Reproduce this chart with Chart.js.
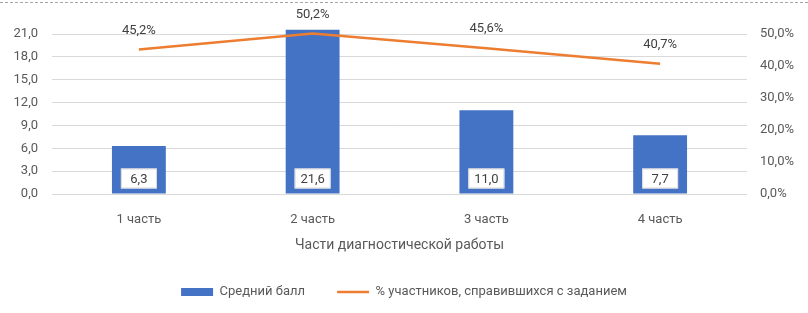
<!DOCTYPE html>
<html>
  <head>
    <meta charset="utf-8" />
    <title>Части диагностической работы</title>
    <style>
      body {
        margin: 0;
        padding: 0;
        background: #fff;
      }
      #wrap {
        position: relative;
        width: 808px;
        height: 313px;
      }
      #topline {
        position: absolute;
        left: 0;
        right: 0;
        top: 2px;
        border-top: 1px dashed #a6a6a6;
      }
    </style>
  </head>
  <body>
    <div id="wrap">
      <canvas id="chart" width="808" height="313"></canvas>
      <div id="topline"></div>
    </div>

    <script src="https://cdn.jsdelivr.net/npm/chart.js"></script>
    <script>
      // chart data
      const parts = ["1 часть", "2 часть", "3 часть", "4 часть"];
      const avgScore = [6.3, 21.6, 11.0, 7.7];
      const pctDone = [45.2, 50.2, 45.6, 40.7];
      const scoreTicks = [0, 3, 6, 9, 12, 15, 18, 21];
      const pctTicks = [0, 10, 20, 30, 40, 50];

      const FONT = "Roboto, sans-serif";
      const GREY = "#595959";

      function fmt(v, digits) {
        return v.toFixed(digits).replace(".", ",");
      }

      // labels on bars and above line points
      const labelPlugin = {
        id: "labels",
        afterDatasetsDraw(chart) {
          const ctx = chart.ctx;
          ctx.save();
          ctx.font = "13px " + FONT;
          ctx.textAlign = "center";
          ctx.textBaseline = "middle";

          chart.getDatasetMeta(0).data.forEach((bar, i) => {
            const txt = fmt(avgScore[i], 1);
            const cy = bar.base - 15;
            ctx.fillStyle = "#fff";
            ctx.fillRect(bar.x - 18, cy - 10, 36, 20);
            ctx.strokeStyle = "#d9d9d9";
            ctx.lineWidth = 1;
            ctx.strokeRect(bar.x - 18 + 0.5, cy - 10 + 0.5, 35, 19);
            ctx.fillStyle = "#404040";
            ctx.fillText(txt, bar.x, cy + 1);
          });

          chart.getDatasetMeta(1).data.forEach((pt, i) => {
            ctx.fillStyle = "#404040";
            ctx.fillText(fmt(pctDone[i], 1) + "%", pt.x, pt.y - 19);
          });
          ctx.restore();
        },
      };

      const ctx = document.getElementById("chart").getContext("2d");
      new Chart(ctx, {
        data: {
          labels: parts,
          datasets: [
            {
              type: "bar",
              label: "Средний балл",
              data: avgScore,
              backgroundColor: "#4472C4",
              pointStyle: "rect",
              borderWidth: 0,
              yAxisID: "y",
              barPercentage: 0.31,
              categoryPercentage: 1,
              order: 2,
            },
            {
              type: "line",
              label: "% участников, справившихся с заданием",
              data: pctDone,
              borderColor: "#ED7D31",
              backgroundColor: "#ED7D31",
              borderWidth: 2.5,
              pointRadius: 0,
              pointStyle: "line",
              yAxisID: "y1",
              order: 1,
            },
          ],
        },
        options: {
          responsive: false,
          animation: false,
          layout: { padding: { left: 0, right: 0, top: 29.5, bottom: 4.5 } },
          plugins: {
            tooltip: { enabled: false },
            legend: {
              position: "bottom",
              labels: {
                color: GREY,
                font: { family: FONT, size: 13 },
                usePointStyle: true,
                pointStyleWidth: 32,
                boxHeight: 8,
                padding: 32,
                sort: (a, b) => a.datasetIndex - b.datasetIndex,
              },
            },
          },
          scales: {
            x: {
              grid: { display: false, drawTicks: false },
              border: { display: false },
              ticks: {
                color: GREY,
                font: { family: FONT, size: 13 },
                padding: 18,
              },
              title: {
                display: true,
                text: "Части диагностической работы",
                color: GREY,
                font: { family: FONT, size: 14 },
                padding: { top: 0, bottom: 0 },
              },
              afterFit(axis) {
                axis.height = 59.5;
              },
            },
            y: {
              position: "left",
              min: 0,
              max: 21.6,
              ticks: {
                color: GREY,
                font: { family: FONT, size: 13 },
                padding: 14,
                callback: (v) => fmt(v, 1),
              },
              afterBuildTicks(axis) {
                axis.ticks = scoreTicks.map((v) => ({ value: v }));
              },
              grid: { color: "#d9d9d9", drawTicks: false },
              border: { display: false },
              afterFit(axis) {
                axis.width = 52;
              },
            },
            y1: {
              position: "right",
              min: 0,
              max: (21.6 / 21) * 50,
              ticks: {
                color: GREY,
                font: { family: FONT, size: 13 },
                padding: 13,
                callback: (v) => fmt(v, 1) + "%",
              },
              afterBuildTicks(axis) {
                axis.ticks = pctTicks.map((v) => ({ value: v }));
              },
              grid: { display: false, drawTicks: false },
              border: { display: false },
              afterFit(axis) {
                axis.width = 61;
              },
            },
          },
        },
        plugins: [labelPlugin],
      });
    </script>
  </body>
</html>
